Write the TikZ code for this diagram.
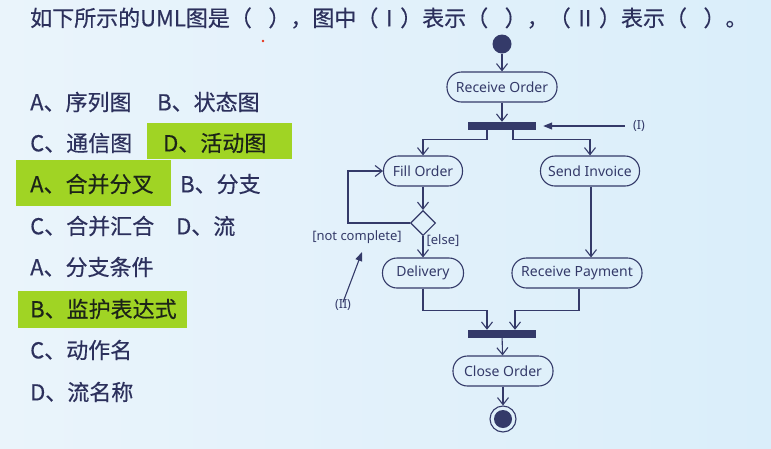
\documentclass[tikz,border=0pt]{standalone}
\usepackage{fontspec}
\setmainfont{Noto Sans CJK SC}[FakeBold=0.4]
\newfontfamily\diagfont{Noto Sans}
\usetikzlibrary{arrows.meta,shapes.geometric,calc}

\definecolor{bgleft}{RGB}{234,244,251}
\definecolor{bgright}{RGB}{218,238,250}
\definecolor{ink}{RGB}{44,48,92}
\definecolor{lineink}{RGB}{52,58,105}
\definecolor{hilite}{RGB}{160,212,36}
\definecolor{hiink}{RGB}{28,36,24}

\newcommand\blank{\hspace{0.75em}}
\newcommand\pad{\hspace{0.35em}}

\tikzset{
  optext/.style={anchor=west, inner sep=0pt, font=\fontsize{22}{22}\selectfont, text=ink},
  hitext/.style={optext, text=hiink},
  hibox/.style={fill=hilite, draw=none},
  act/.style={draw=lineink, line width=1.1pt, rounded corners=14.5pt,
    minimum height=30pt, inner xsep=4pt, inner ysep=0pt,
    font=\diagfont\fontsize{14}{14}\selectfont, text=lineink},
  bar/.style={fill=lineink, draw=none, minimum width=68pt, minimum height=8pt, inner sep=0pt},
  flow/.style={draw=lineink, line width=1.1pt, -{Straight Barb[length=7pt,width=11pt]}},
  pointer/.style={draw=lineink, line width=1.1pt, -{Triangle[length=9pt,width=7pt]}},
  note/.style={font=\diagfont\fontsize{12.5}{13}\selectfont, text=lineink, inner sep=1pt},
  guard/.style={font=\diagfont\fontsize{13}{13}\selectfont, text=lineink, inner sep=1pt},
}

\begin{document}
\begin{tikzpicture}[x=1pt, y=-1pt]
\useasboundingbox (0,0) rectangle (771,448);
\shade[left color=bgleft, right color=bgright] (0,0) rectangle (771,448);

% question line
\node[optext, text=ink] (title) at (30,18)
  {如下所示的UML图是（\blank），图中（\pad I\pad）表示（\blank），（\pad II\pad）表示（\blank）。};
\fill[red!60!brown] (263,41) circle (1.3);

% answer options
\fill[hibox] (147,123) rectangle (292,159);
\fill[hibox] (16,160) rectangle (171,206);
\fill[hibox] (18,291) rectangle (187,328);

\node[optext] (q1a) at (30,102) {A、序列图};
\node[optext] (q1b) at (157,102) {B、状态图};
\node[optext] (q1c) at (30,143) {C、通信图};
\node[hitext] (q1d) at (163,143) {D、活动图};

\node[hitext] (q2a) at (30,184) {A、合并分叉};
\node[optext] (q2b) at (180,184) {B、分支};
\node[optext] (q2c) at (30,226) {C、合并汇合};
\node[optext] (q2d) at (176,226) {D、流};

\node[optext] (q3a) at (30,267) {A、分支条件};
\node[hitext] (q3b) at (30,309) {B、监护表达式};
\node[optext] (q3c) at (30,350) {C、动作名};
\node[optext] (q3d) at (30,392) {D、流名称};

% activity diagram
\node[circle, fill=lineink, minimum size=19pt, inner sep=0pt] (start) at (502,44) {};
\node[act, minimum width=110pt] (recv) at (502,87) {Receive Order};
\node[bar] (fork) at (502,126) {};
\node[act, minimum width=79pt] (fill) at (423,171) {Fill Order};
\node[act, minimum width=99pt] (send) at (590,171) {Send Invoice};
\node[diamond, draw=lineink, line width=1.1pt, minimum width=25pt, minimum height=25pt, inner sep=0pt] (dec) at (423,223) {};
\node[act, minimum width=81pt] (deliv) at (423,273) {Delivery};
\node[act, minimum width=130pt] (pay) at (577,273) {Receive Payment};
\node[bar] (join) at (502,334) {};
\node[act, minimum width=100pt] (close) at (503,371) {Close Order};
\node[circle, draw=lineink, line width=1.1pt, minimum size=26pt, inner sep=0pt] (stop) at (503,419) {};
\node[circle, fill=lineink, minimum size=18pt, inner sep=0pt] (stopdot) at (stop.center) {};

\draw[flow] (start) -- (recv);
\draw[flow] (recv) -- (fork);
\draw[flow] ([xshift=-15pt]fork.south) -- ++(0,9) -| (fill.north);
\draw[flow] ([xshift=11pt]fork.south) -- ++(0,9) -| (send.north);
\draw[flow] (fill) -- (dec);
\coordinate (loop) at (348,223);
\draw[flow] (dec.west) -- (loop) |- (fill.west);
\draw[flow] (dec) -- (deliv);
\draw[flow] ([xshift=1pt]send.south) -- ([xshift=1pt]send.south |- pay.north);
\draw[flow] (deliv.south) -- ++(0,22) -| ([xshift=-15pt]join.north);
\draw[flow] ([xshift=2pt]pay.south) -- ++(0,22) -| ([xshift=13pt]join.north);
\draw[flow] (join) -- (close);
\draw[flow] (close) -- (stop);

\node[guard] (notcomplete) at (357,237) {[not complete]};
\node[guard] (else) at (443,241) {[else]};

% callouts
\node[note] (lblI) at (639,126) {(I)};
\draw[pointer] ([xshift=-7pt]lblI.west) -- ([xshift=7pt]fork.east);
\node[note] (lblII) at (343,305) {(II)};
\coordinate (tipII) at (362,252);
\draw[pointer] ([yshift=-4pt]lblII.north) -- (tipII);
\end{tikzpicture}
\end{document}
